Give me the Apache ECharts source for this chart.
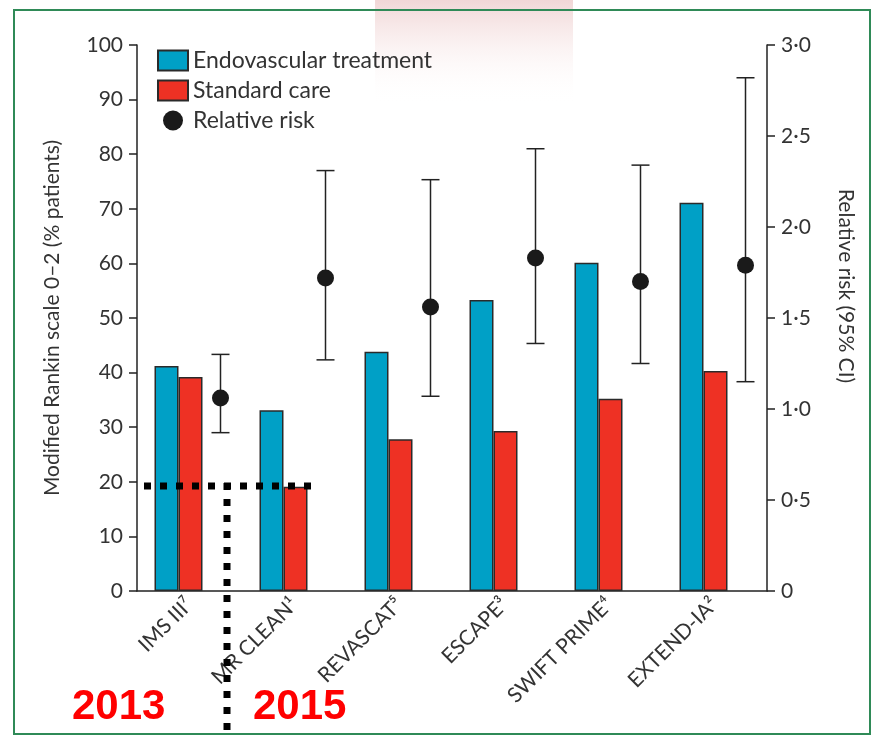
<!DOCTYPE html>
<html>
<head>
<meta charset="UTF-8">
<title>Endovascular trials</title>
<script src="https://cdn.jsdelivr.net/npm/echarts@6/dist/echarts.min.js"></script>
<style>
  html, body { margin: 0; padding: 0; background: #fff; }
  #main { width: 885px; height: 736px; }
</style>
</head>
<body>
<div id="main"></div>
<script type="text/javascript">
// trial names (superscripts are reference numbers)
var trials = ['IMS III\u2077', 'MR CLEAN\u00b9', 'REVASCAT\u2075', 'ESCAPE\u00b3', 'SWIFT PRIME\u2074', 'EXTEND-IA\u00b2'];
// mRS 0-2, % patients
var endovascular = [41.2, 33.1, 43.8, 53.3, 60.1, 71.1];
var standardCare = [39.2, 19.1, 27.8, 29.3, 35.2, 40.3];
// relative risk with 95% CI
var rr = [1.06, 1.72, 1.56, 1.83, 1.70, 1.79];
var rrLow = [0.87, 1.27, 1.07, 1.36, 1.25, 1.15];
var rrHigh = [1.30, 2.31, 2.26, 2.43, 2.34, 2.82];

var font = 'Lato, "Open Sans", sans-serif';
var ink = '#333';

var myChart = echarts.init(document.getElementById('main'));

var option = {
  backgroundColor: '#fff',
  animation: false,
  textStyle: { fontFamily: font },
  grid: { left: 137, right: 118, top: 45, bottom: 145 },
  legend: {
    orient: 'vertical',
    left: 152,
    top: 44,
    itemWidth: 30,
    itemHeight: 20,
    itemGap: 7,
    textStyle: { fontSize: 23, color: ink, fontFamily: font },
    data: [
      { name: 'Endovascular treatment', icon: 'rect' },
      { name: 'Standard care', icon: 'rect' },
      { name: 'Relative risk', icon: 'circle' }
    ]
  },
  xAxis: {
    type: 'category',
    data: trials,
    boundaryGap: true,
    axisLine: { lineStyle: { color: '#222', width: 1.5 } },
    axisTick: { length: 10, lineStyle: { color: '#222', width: 1.5 } },
    axisLabel: { rotate: 45, fontSize: 21, color: ink, margin: 10, fontFamily: font }
  },
  yAxis: [
    {
      type: 'value',
      min: 0, max: 100, interval: 10,
      name: 'Modified Rankin scale 0\u20132 (% patients)',
      nameLocation: 'middle',
      nameGap: 74,
      nameTextStyle: { fontSize: 21, color: ink },
      splitLine: { show: false },
      axisLine: { show: true, lineStyle: { color: '#222', width: 1.5 } },
      axisTick: { show: true, length: 8, lineStyle: { color: '#222', width: 1.5 } },
      axisLabel: { fontSize: 21, color: ink, margin: 14 }
    },
    {
      type: 'value',
      min: 0, max: 3, interval: 0.5,
      position: 'right',
      name: 'Relative risk (95% CI)',
      nameLocation: 'middle',
      nameGap: 68,
      nameRotate: -90,
      nameTextStyle: { fontSize: 21, color: ink, padding: [0, 64, 0, 0] },
      splitLine: { show: false },
      axisLine: { show: true, lineStyle: { color: '#222', width: 1.5 } },
      axisTick: { show: true, length: 8, lineStyle: { color: '#222', width: 1.5 } },
      axisLabel: {
        fontSize: 21, color: ink, margin: 14,
        formatter: function (v) { return v === 0 ? '0' : v.toFixed(1).replace('.', '\u00b7'); }
      }
    }
  ],
  series: [
    {
      name: 'Endovascular treatment',
      type: 'bar',
      data: endovascular,
      barWidth: 24,
      barGap: '0%',
      itemStyle: { color: '#00a0c6', borderColor: '#2a2a2a', borderWidth: 1.5 }
    },
    {
      name: 'Standard care',
      type: 'bar',
      data: standardCare,
      barWidth: 24,
      barGap: '0%',
      itemStyle: { color: '#ee3124', borderColor: '#2a2a2a', borderWidth: 1.5 }
    },
    {
      // empty slot that keeps the bars left of the relative risk marker
      name: 'spacer',
      type: 'bar',
      data: trials.map(function () { return 0; }),
      barWidth: 22,
      barGap: '0%',
      silent: true,
      itemStyle: { color: 'rgba(0,0,0,0)', borderWidth: 0 }
    },
    {
      name: 'CI',
      type: 'custom',
      yAxisIndex: 1,
      silent: true,
      data: rr.map(function (v, i) { return [i, rrLow[i], rrHigh[i]]; }),
      renderItem: function (params, api) {
        var lo = api.coord([api.value(0), api.value(1)]);
        var hi = api.coord([api.value(0), api.value(2)]);
        var x = lo[0] + 31;
        var cap = 9;
        var style = { stroke: '#222', lineWidth: 1.5 };
        return {
          type: 'group',
          children: [
            { type: 'line', shape: { x1: x, y1: lo[1], x2: x, y2: hi[1] }, style: style },
            { type: 'line', shape: { x1: x - cap, y1: lo[1], x2: x + cap, y2: lo[1] }, style: style },
            { type: 'line', shape: { x1: x - cap, y1: hi[1], x2: x + cap, y2: hi[1] }, style: style }
          ]
        };
      }
    },
    {
      name: 'Relative risk',
      type: 'scatter',
      yAxisIndex: 1,
      data: rr,
      symbol: 'circle',
      symbolSize: 17,
      symbolOffset: [31, 0],
      itemStyle: { color: '#1a1a1a', opacity: 1 }
    }
  ],
  graphic: [
    // faded photo strip at the top of the slide
    {
      type: 'rect', z: -10, silent: true,
      shape: { x: 375, y: 0, width: 198, height: 105 },
      style: {
        fill: {
          type: 'linear', x: 0, y: 0, x2: 0, y2: 1,
          colorStops: [
            { offset: 0, color: 'rgba(205,110,110,0.28)' },
            { offset: 1, color: 'rgba(255,255,255,0)' }
          ]
        }
      }
    },
    // slide frame
    {
      type: 'rect', silent: true,
      shape: { x: 14, y: 10, width: 856, height: 724 },
      style: { fill: 'none', stroke: '#2f8a57', lineWidth: 2 }
    },
    // dotted annotation lines
    {
      type: 'line', silent: true, z: 20,
      shape: { x1: 144, y1: 486, x2: 314, y2: 486 },
      style: { stroke: '#000', lineWidth: 7, lineDash: [7, 9] }
    },
    {
      type: 'line', silent: true, z: 20,
      shape: { x1: 227, y1: 483, x2: 227, y2: 736 },
      style: { stroke: '#000', lineWidth: 7, lineDash: [7, 9] }
    },
    {
      type: 'text', z: 20, left: 72, top: 686,
      style: {
        text: '2013', fill: '#ff0000',
        font: 'bold 42px "Liberation Sans", Arial, sans-serif',
        shadowColor: 'rgba(0,0,0,0.35)', shadowBlur: 3, shadowOffsetX: 2, shadowOffsetY: 2
      }
    },
    {
      type: 'text', z: 20, left: 253, top: 686,
      style: {
        text: '2015', fill: '#ff0000',
        font: 'bold 42px "Liberation Sans", Arial, sans-serif',
        shadowColor: 'rgba(0,0,0,0.35)', shadowBlur: 3, shadowOffsetX: 2, shadowOffsetY: 2
      }
    }
  ]
};

myChart.setOption(option);
</script>
</body>
</html>
